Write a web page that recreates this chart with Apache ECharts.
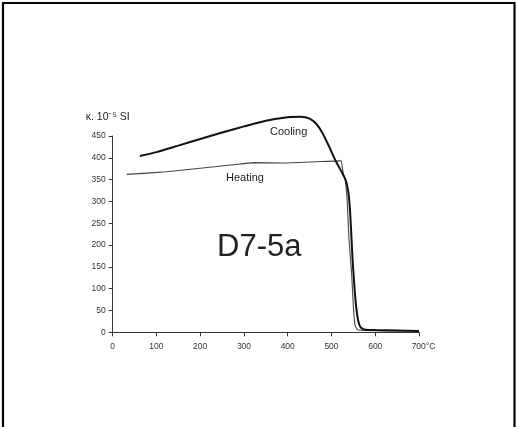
<!DOCTYPE html>
<html>
<head>
<meta charset="utf-8">
<script src="https://cdn.jsdelivr.net/npm/echarts@6/dist/echarts.min.js"></script>
<style>
html,body{margin:0;padding:0;background:#fff;}
#chart{width:517px;height:427px;}
</style>
</head>
<body>
<div id="chart"></div>
<script>
// Temperature (°C) vs susceptibility κ (10^-5 SI)
var coolingData = [
  [62,404],[100,413],[150,428],[200,443],[250,458],[300,472],[350,485],[400,493],
  [430,494],[450,490],[465,478],[480,456],[495,425],[510,392],[522,370],[532,350],
  [538,325],[542,285],[545,230],[548,170],[551,125],[555,72],[559,38],[563,19],
  [568,10],[578,6],[600,5],[650,4],[700,3]
];
var heatingData = [
  [32,362],[123,368],[200,376],[276,384],[321,389],[390,388],[466,391],[519,393],
  [522,393],[527,364],[531,353],[536,300],[540,212],[546,135],[550,59],[554,15],
  [560,6],[580,4],[620,3],[700,3]
];
var xTicks = [0,100,200,300,400,500,600,700];
var yTicks = [0,50,100,150,200,250,300,350,400,450];
var yAxisTitle = 'κ. 10⁻⁵ SI';
var xUnit = '°C';
var sampleName = 'D7-5a';
var coolingLabel = 'Cooling';
var heatingLabel = 'Heating';

var chart = echarts.init(document.getElementById('chart'), null, {renderer:'canvas'});
var labelFont = {color:'#333', fontSize:8.5, fontFamily:'Liberation Sans Narrow, Liberation Sans, Arial, sans-serif'};
var xMax = xTicks[xTicks.length-1];
chart.setOption({
  backgroundColor:'#fff',
  animation:false,
  grid:{left:112.7, right:98, top:136, bottom:94.7, containLabel:false},
  xAxis:{
    type:'value', min:xTicks[0], max:xMax, interval:100,
    axisLine:{lineStyle:{color:'#333', width:1}},
    axisTick:{show:true, length:4, inside:false, lineStyle:{color:'#333'}},
    axisLabel:Object.assign({}, labelFont, {
      margin:10,
      formatter:function(v){ return v === xMax ? '{pad|}' + v + xUnit : String(v); },
      rich:{pad:{width:9}}
    }),
    splitLine:{show:false}
  },
  yAxis:{
    type:'value', min:yTicks[0], max:yTicks[yTicks.length-1], interval:50,
    name:yAxisTitle, nameLocation:'end', nameGap:13,
    nameTextStyle:Object.assign({}, labelFont, {fontSize:10.5, color:'#222', align:'center', padding:[0,0,0,-10]}),
    axisLine:{show:true, lineStyle:{color:'#333', width:1}},
    axisTick:{show:true, length:4, inside:false, lineStyle:{color:'#333'}},
    axisLabel:Object.assign({}, labelFont, {margin:7}),
    splitLine:{show:false}
  },
  series:[
    {
      name:heatingLabel, type:'line', data:heatingData, showSymbol:false, clip:false,
      smooth:0.15, lineStyle:{color:'#444', width:1.1}
    },
    {
      name:coolingLabel, type:'line', data:coolingData, showSymbol:false, clip:false,
      smooth:0.2, lineStyle:{color:'#111', width:2}
    }
  ],
  graphic:[
    {type:'rect', shape:{x:3, y:3, width:511.5, height:440}, style:{fill:'none', stroke:'#000', lineWidth:2.2}, silent:true},
    {type:'text', left:270, top:126, style:{text:coolingLabel, fill:'#222', fontSize:11, fontFamily:'Liberation Sans, Arial, sans-serif'}},
    {type:'text', left:226, top:172, style:{text:heatingLabel, fill:'#222', fontSize:11, fontFamily:'Liberation Sans, Arial, sans-serif'}},
    {type:'text', left:217, top:232, style:{text:sampleName, fill:'#222', fontSize:31, fontFamily:'Liberation Sans, Arial, sans-serif'}}
  ]
});
</script>
</body>
</html>
